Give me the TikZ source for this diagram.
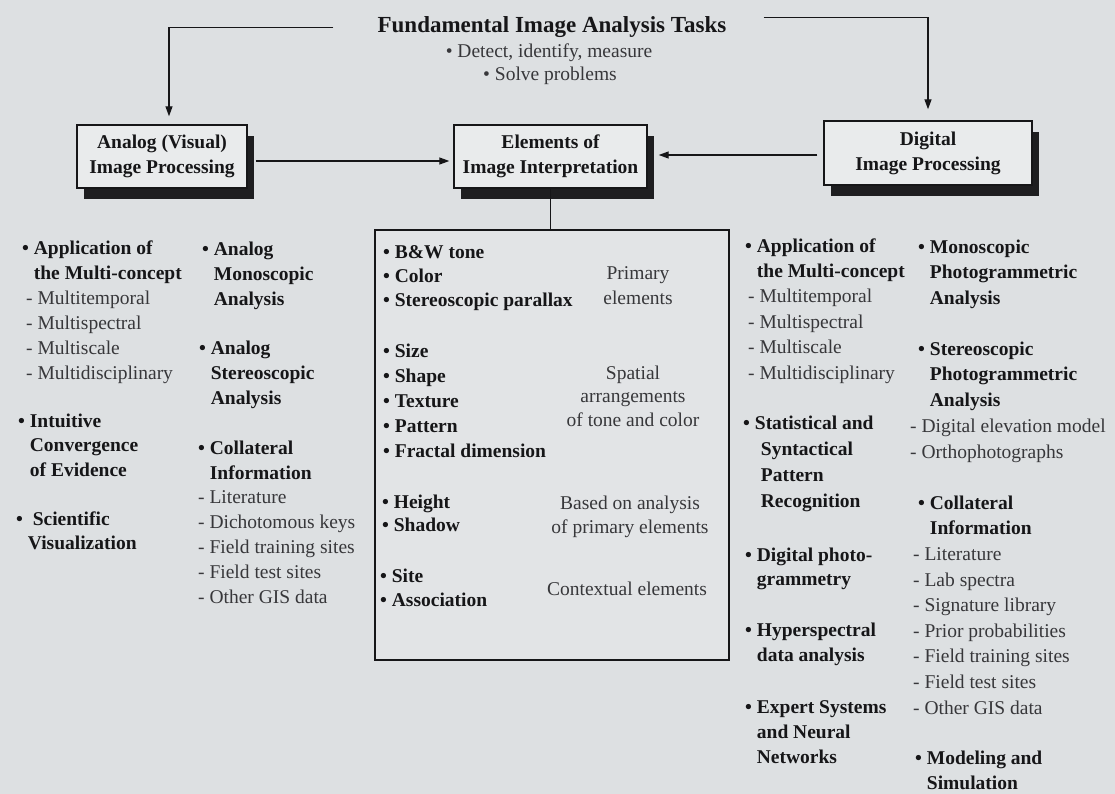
\documentclass[tikz,border=0pt]{standalone}
\usepackage{fontspec}
\setmainfont{Liberation Serif}
\usetikzlibrary{arrows.meta,shadows}
\definecolor{bgcol}{RGB}{221,224,226}
\definecolor{boxcol}{RGB}{233,235,236}
\definecolor{ink}{RGB}{22,22,24}
\definecolor{subink}{RGB}{55,55,58}
\definecolor{shadowcol}{RGB}{30,30,32}
\newcommand{\bul}{\textbullet\ }
\newcommand{\itemind}{\hphantom{\textbullet\ }}
\newcommand{\subitm}[1]{\textmd{\color{subink}- #1}}

\begin{document}
\begin{tikzpicture}[x=1pt,y=-1pt,
procbox/.style={draw=ink,line width=1.4pt,fill=boxcol,align=center,
  font=\fontsize{19.5}{25}\selectfont\bfseries,text=ink,inner sep=0pt,
  general shadow={fill=shadowcol,shadow xshift=7pt,shadow yshift=-11pt}},
flow/.style={draw=ink,line width=1.3pt,-{Triangle[length=10pt,width=7pt]}},
link/.style={draw=ink,line width=1.3pt},
lst/.style={anchor=base west,inner sep=0pt,align=left,text=ink,
  font=\fontsize{19.5}{#1}\selectfont\bfseries},
lst/.default=25,
lbl/.style={anchor=base,inner sep=0pt,align=center,text=subink,
  font=\fontsize{19.5}{#1}\selectfont},
lbl/.default=24]
\fill[bgcol] (0,0) rectangle (1115,794);
\useasboundingbox (0,0) rectangle (1115,794);

% title
\node[anchor=base,inner sep=0pt,text=ink,font=\fontsize{23}{28}\selectfont\bfseries] (tasks) at (552,33) {Fundamental Image Analysis Tasks};
\node[lbl] (detect) at (549,58) {\bul Detect, identify, measure};
\node[lbl] (solve) at (550,81) {\bul Solve problems};

% boxes
\node[procbox,minimum width=170pt,minimum height=63pt] (analog) at (162,156.5) {Analog (Visual)\\Image Processing};
\node[procbox,minimum width=193pt,minimum height=63pt] (elements) at (550.5,156.5) {Elements of\\Image Interpretation};
\node[procbox,minimum width=208pt,minimum height=64pt] (digital) at (928,153) {Digital\\Image Processing};
\node[draw=ink,line width=1.4pt,fill=boxcol!40!bgcol,minimum width=354pt,minimum height=430pt,inner sep=0pt] (elembox) at (552,445) {};

% connectors
\draw[flow,shorten >=8pt] ([xshift=-44pt]tasks.west) -| ([xshift=7pt]analog.north);
\draw[flow,shorten >=11pt] ([xshift=37pt,yshift=10pt]tasks.east) -| (digital.north);
\draw[flow,shorten >=4pt] ([xshift=8pt,yshift=-4.5pt]analog.east) -- ([yshift=-4.5pt]elements.west);
\draw[flow,shorten >=11pt] ([xshift=-6pt,yshift=-2pt]digital.west) -- ([yshift=1.5pt]elements.east);
\draw[link] (elements.south) -- (elements.south |- elembox.north);

% analog side (nodes sit on the baseline of their last line)
\node[lst] (multiL) at (22,379) {\bul Application of\\\itemind the Multi-concept\\\hspace*{4pt}\subitm{Multitemporal}\\\hspace*{4pt}\subitm{Multispectral}\\\hspace*{4pt}\subitm{Multiscale}\\\hspace*{4pt}\subitm{Multidisciplinary}};
\node[lst=24.5] (intuit) at (18,476) {\bul Intuitive\\\itemind Convergence\\\itemind of Evidence};
\node[lst=24] (scivis) at (16,549) {\bul\ Scientific\\\itemind Visualization};
\node[lst] (monoA) at (202,305) {\bul Analog\\\itemind Monoscopic\\\itemind Analysis};
\node[lst] (stereoA) at (199,404) {\bul Analog\\\itemind Stereoscopic\\\itemind Analysis};
\node[lst=24.8] (collA) at (198,603) {\bul Collateral\\\itemind Information\\\subitm{Literature}\\\subitm{Dichotomous keys}\\\subitm{Field training sites}\\\subitm{Field test sites}\\\subitm{Other GIS data}};

% elements
\node[lst=24] (primL) at (383,306) {\bul B\&W tone\\\bul Color\\\bul Stereoscopic parallax};
\node[lst] (spatL) at (383,457) {\bul Size\\\bul Shape\\\bul Texture\\\bul Pattern\\\bul Fractal dimension};
\node[lst=23.5] (heightL) at (382,531.5) {\bul Height\\\bul Shadow};
\node[lst=24] (contL) at (380,606) {\bul Site\\\bul Association};
\node[lbl=25] (primR) at (638,304) {Primary\\elements};
\node[lbl=23.5] (spatR) at (633,426) {Spatial\\arrangements\\of tone and color};
\node[lbl] (heightR) at (630,533) {Based on analysis\\of primary elements};
\node[lbl] (contR) at (627,595) {Contextual elements};

% digital side
\node[lst=25.4] (multiR) at (745,379) {\bul Application of\\\itemind the Multi-concept\\\hspace*{3pt}\subitm{Multitemporal}\\\hspace*{3pt}\subitm{Multispectral}\\\hspace*{3pt}\subitm{Multiscale}\\\hspace*{3pt}\subitm{Multidisciplinary}};
\node[lst=25.7] (pattR) at (743,507) {\bul Statistical and\\\itemind\hspace*{6pt}Syntactical\\\itemind\hspace*{6pt}Pattern\\\itemind\hspace*{6pt}Recognition};
\node[lst=24] (photoR) at (745,585) {\bul Digital photo-\\\itemind grammetry};
\node[lst] (hyperR) at (745,661) {\bul Hyperspectral\\\itemind data analysis};
\node[lst] (expertR) at (745,763) {\bul Expert Systems\\\itemind and Neural\\\itemind Networks};
\node[lst=25.5] (monoR) at (918,304) {\bul Monoscopic\\\itemind Photogrammetric\\\itemind Analysis};
\node[lst=25.75] (stereoR) at (910,458) {\hspace*{8pt}\bul Stereoscopic\\\hspace*{8pt}\itemind Photogrammetric\\\hspace*{8pt}\itemind Analysis\\\subitm{Digital elevation model}\\\subitm{Orthophotographs}};
\node[lst=25.6] (collR) at (913,714) {\hspace*{5pt}\bul Collateral\\\hspace*{5pt}\itemind Information\\\subitm{Literature}\\\subitm{Lab spectra}\\\subitm{Signature library}\\\subitm{Prior probabilities}\\\subitm{Field training sites}\\\subitm{Field test sites}\\\subitm{Other GIS data}};
\node[lst] (modelR) at (915,789) {\bul Modeling and\\\itemind Simulation};
\end{tikzpicture}
\end{document}
